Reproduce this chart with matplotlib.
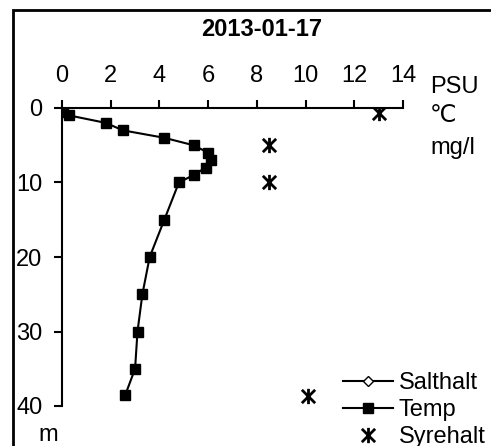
import numpy as np
import matplotlib.pyplot as plt
from matplotlib.path import Path
from matplotlib.patches import Rectangle

plt.rcParams['font.family'] = ['Liberation Sans', 'DejaVu Sans']

# data
temp = [0.05, 0.3, 1.8, 2.5, 4.2, 5.4, 6.0, 6.1, 5.9, 5.4, 4.8, 4.2, 3.6, 3.3, 3.1, 3.0, 2.6]
temp_depth = [0.5, 1, 2, 3, 4, 5, 6, 7, 8, 9, 10, 15, 20, 25, 30, 35, 38.5]
salt = []
salt_depth = []
oxygen = [13.0, 8.5, 8.5, 10.1]
oxygen_depth = [0.7, 5, 10, 38.6]
xticks = [0, 2, 4, 6, 8, 10, 12, 14]
yticks = [0, 10, 20, 30, 40]

W, H = 491, 446
fs = 17
fig = plt.figure(figsize=(W / 100, H / 100), dpi=100)
ax = fig.add_axes([62 / W, 1 - 406 / H, (403 - 62) / W, (406 - 108) / H])

star = Path([(-1, -1), (1, 1), (-1, 1), (1, -1), (0, -1.15), (0, 1.15)],
            [Path.MOVETO, Path.LINETO, Path.MOVETO, Path.LINETO, Path.MOVETO, Path.LINETO])

ax.plot(salt, salt_depth, color='black', lw=1.5, marker='D', markersize=5,
        markerfacecolor='white', markeredgecolor='black', label='Salthalt')
ax.plot(temp, temp_depth, color='black', lw=1.5, marker='s', markersize=7.5,
        label='Temp')
ax.plot(oxygen, oxygen_depth, ls='none', marker=star, markersize=11, color='black',
        markeredgewidth=2, label='Syrehalt')

ax.set_xlim(0, 14)
ax.set_ylim(40, 0)
ax.set_xticks(xticks)
ax.set_yticks(yticks)
ax.xaxis.tick_top()
ax.spines['right'].set_visible(False)
ax.spines['bottom'].set_visible(False)
ax.spines['top'].set_linewidth(1.5)
ax.spines['left'].set_linewidth(1.5)
ax.tick_params(axis='x', direction='out', length=6, width=1.5, labelsize=fs, pad=9)
ax.tick_params(axis='y', direction='out', length=6, width=1.5, labelsize=fs, pad=8)

leg = ax.legend(loc='lower left', bbox_to_anchor=(343 / W, -0.005), bbox_transform=fig.transFigure,
                frameon=False, fontsize=fs, handlelength=2.1, handletextpad=0.25,
                labelspacing=0.22, borderpad=0, borderaxespad=0)

fig.text(262 / W, 1 - 30 / H, '2013-01-17', ha='center', va='center',
         fontsize=fs, fontweight='bold')
fig.text(430 / W, 1 - 87 / H, 'PSU', ha='left', va='center', fontsize=fs)
fig.text(430 / W, 1 - 116 / H, '\u2103', ha='left', va='center', fontsize=fs)
fig.text(430 / W, 1 - 148 / H, 'mg/l', ha='left', va='center', fontsize=fs)
fig.text(48 / W, 1 - 435 / H, 'm', ha='center', va='center', fontsize=fs)

fig.patches.append(Rectangle((13 / W, -0.1), 1.2, 1.1 - 10 / H, transform=fig.transFigure,
                             fill=False, edgecolor='black', linewidth=2))

fig.savefig('out.png', dpi=100)
